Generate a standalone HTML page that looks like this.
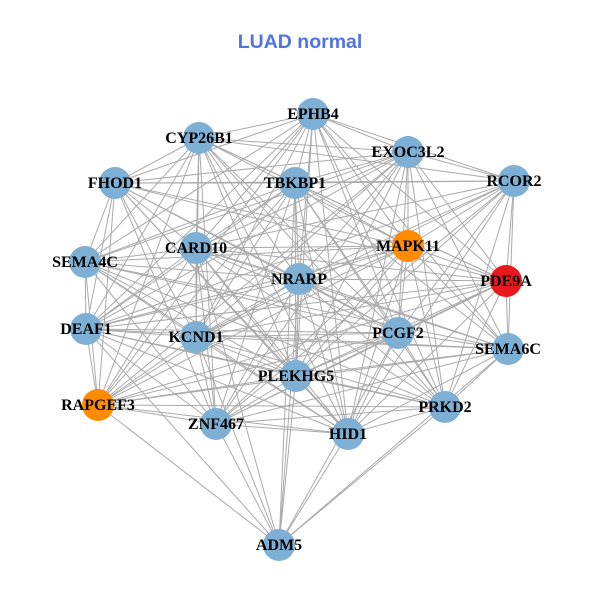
<!DOCTYPE html>
<html><head><meta charset="utf-8"><style>
html,body{margin:0;padding:0;background:#fff;width:600px;height:600px;overflow:hidden}
text{font-family:"Liberation Serif",serif;font-weight:bold;font-size:16px;fill:#000}
</style></head><body>
<svg id="s" width="600" height="600" xmlns="http://www.w3.org/2000/svg">
<text x="300" y="48" text-anchor="middle" style="font-family:'Liberation Sans',sans-serif;font-size:19.5px;fill:#4f74e3">LUAD normal</text>
<g id="edges" stroke="#aaaaaa" stroke-width="1"></g>
<g id="nodes"></g>
<g text-anchor="middle">
<text x="313" y="119">EPHB4</text>
<text x="199" y="143">CYP26B1</text>
<text x="408" y="157">EXOC3L2</text>
<text x="115" y="188">FHOD1</text>
<text x="295" y="188">TBKBP1</text>
<text x="514" y="186">RCOR2</text>
<text x="85" y="267">SEMA4C</text>
<text x="196" y="253">CARD10</text>
<text x="408" y="251">MAPK11</text>
<text x="299" y="284">NRARP</text>
<text x="506" y="286">PDE9A</text>
<text x="86" y="334">DEAF1</text>
<text x="196" y="342">KCND1</text>
<text x="398" y="338">PCGF2</text>
<text x="508" y="354">SEMA6C</text>
<text x="296" y="381">PLEKHG5</text>
<text x="98" y="410">RAPGEF3</text>
<text x="445" y="412">PRKD2</text>
<text x="216" y="429">ZNF467</text>
<text x="348" y="439">HID1</text>
<text x="279" y="550">ADM5</text>
</g>
</svg>
<script>
var N=[["EPHB4",313,114],["CYP26B1",199,138],["EXOC3L2",408,152],["FHOD1",115,183],["TBKBP1",295,183],["RCOR2",514,181],["SEMA4C",85,262],["CARD10",196,248],["MAPK11",408,246,"#ff8c00"],["NRARP",299,279],["PDE9A",506,281,"#e8191e"],["DEAF1",86,329],["KCND1",196,337],["PCGF2",398,333],["SEMA6C",508,349],["PLEKHG5",296,376],["RAPGEF3",98,405,"#ff8c00"],["PRKD2",445,407],["ZNF467",216,424],["HID1",348,434],["ADM5",279,545]];
var adm={RAPGEF3:1,ZNF467:1,KCND1:1,PLEKHG5:1,HID1:1,PRKD2:1,NRARP:1,DEAF1:1,CARD10:1,PCGF2:1,SEMA6C:1,TBKBP1:1};
var skip={"FHOD1-SEMA6C":1,"SEMA4C-PDE9A":1,"RCOR2-RAPGEF3":1,"EPHB4-ZNF467":1,"FHOD1-PRKD2":1,"CYP26B1-SEMA6C":1,"RCOR2-SEMA4C":1};
var e=document.getElementById("edges"),ns="http://www.w3.org/2000/svg";
for(var i=0;i<N.length;i++)for(var j=i+1;j<N.length;j++){
 var a=N[i],b=N[j];
 if(a[0]=="ADM5"||b[0]=="ADM5"){var o=a[0]=="ADM5"?b[0]:a[0];if(!adm[o])continue;}
 if(skip[a[0]+"-"+b[0]]||skip[b[0]+"-"+a[0]])continue;
 var l=document.createElementNS(ns,"line");
 l.setAttribute("x1",a[1]);l.setAttribute("y1",a[2]);l.setAttribute("x2",b[1]);l.setAttribute("y2",b[2]);
 e.appendChild(l);}
var g=document.getElementById("nodes");
N.forEach(function(n){var c=document.createElementNS(ns,"circle");c.setAttribute("cx",n[1]);c.setAttribute("cy",n[2]);c.setAttribute("r",16);c.setAttribute("fill",n[3]||"#7eb0d5");g.appendChild(c);});
</script>
</body></html>
